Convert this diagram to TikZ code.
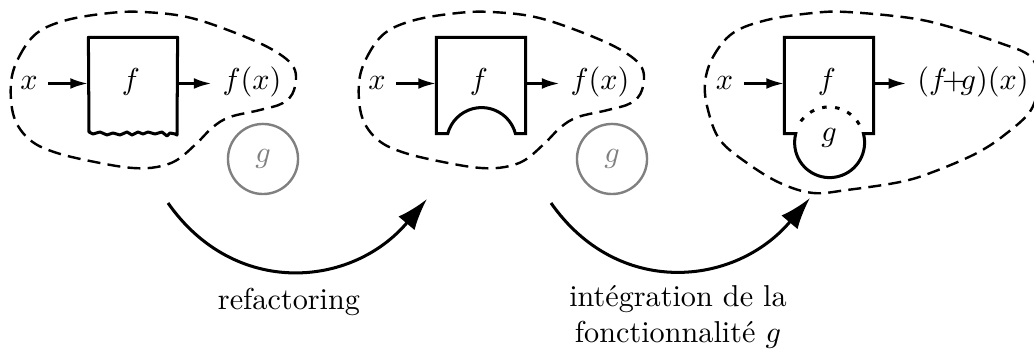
\documentclass[tikz,border=0pt]{standalone}
\usepackage{fontspec}
\usetikzlibrary{arrows.meta,calc}
\begin{document}
\begin{tikzpicture}[x=0.331pt,y=0.331pt,
  blob/.style={line width=0.8pt, dash pattern=on 4.3pt off 2.4pt},
  fbox/.style={minimum width=29.13pt, minimum height=31.45pt, inner sep=0pt},
  boxline/.style={line width=1pt, line join=miter},
  inarrow/.style={line width=1pt, -{Latex[length=6pt,width=3.6pt]}},
  bigarrow/.style={line width=1pt, -{Latex[length=10.5pt,width=7pt]}},
  gcirc/.style={circle, draw=black!50, text=black!50, line width=0.8pt, minimum size=23.2pt, inner sep=0pt},
  lbl/.style={anchor=base, inner sep=3.33pt},
  dotarc/.style={line width=1pt, dash pattern=on 1.5pt off 2.8pt}
]
\useasboundingbox (0,0) rectangle (1034,-351);

% ---------- panel 1 ----------
\draw[blob] plot[smooth cycle, tension=0.6] coordinates {(11,-83) (19,-57) (37,-33) (67,-20) (110,-13) (143,-12) (187,-17) (233,-32) (273,-50) (294,-68) (294,-90) (283,-103) (260,-110) (230,-117) (213,-127) (197,-143) (177,-160) (157,-167) (133,-168) (100,-163) (57,-153) (30,-140) (14,-117)};
\node[lbl] (x1) at (29,-90) {$x$};
\node[fbox] (b1) at (133,-85.5) {};
\node[lbl] (f1) at (131,-90) {$f$};
\node[lbl] (y1) at (252,-90) {$f(x)$};
\draw[inarrow] (x1.east) -- (x1.east -| b1.west);
\draw[inarrow] (b1.east |- x1.east) -- (y1.west |- x1.east);
\draw[boxline, line join=round] (89,-132) -- (b1.north west) -- (b1.north east) -- (177,-135) -- (175,-134) -- (170,-133) -- (167,-136) -- (162,-132) -- (155,-134) -- (148,-132) -- (143,-134) -- (138,-132) -- (132,-135) -- (127,-132) -- (120,-135) -- (113,-133) -- (107,-135) -- (100,-132) -- (93,-134) -- cycle;
\node[gcirc] (g1) at (263,-159) {$g$};

% ---------- panel 2 ----------
\begin{scope}[shift={(348,0)}]
\draw[blob] plot[smooth cycle, tension=0.6] coordinates {(11,-83) (19,-57) (37,-33) (67,-20) (110,-13) (143,-12) (187,-17) (233,-32) (273,-50) (294,-68) (294,-90) (283,-103) (260,-110) (230,-117) (213,-127) (197,-143) (177,-160) (157,-167) (133,-168) (100,-163) (57,-153) (30,-140) (14,-117)};
\node[lbl] (x2) at (29,-90) {$x$};
\node[fbox] (b2) at (133,-85.5) {};
\node[lbl] (f2) at (131,-90) {$f$};
\node[lbl] (y2) at (252,-90) {$f(x)$};
\draw[inarrow] (x2.east) -- (x2.east -| b2.west);
\draw[inarrow] (b2.east |- x2.east) -- (y2.west |- x2.east);
\draw[boxline] (b2.south west) -- (b2.north west) -- (b2.north east) -- (b2.south east) -- ++(-10.2,0) arc[start angle=14.9, end angle=165.1, radius=35] -- cycle;
\node[gcirc] (g2) at (264,-159) {$g$};
\end{scope}

% ---------- panel 3 ----------
\begin{scope}[shift={(696,0)}]
\draw[blob] plot[smooth cycle, tension=0.6] coordinates {(9,-83) (17,-57) (37,-33) (71,-20) (117,-13) (151,-12) (214,-18) (254,-27) (304,-43) (335,-57) (342,-82) (335,-110) (311,-133) (281,-153) (237,-172) (204,-182) (151,-190) (117,-193) (84,-183) (51,-163) (24,-140) (12,-110)};
\node[lbl] (x3) at (28.5,-90) {$x$};
\node[fbox] (b3) at (133,-85.5) {};
\node[lbl] (f3) at (131,-90) {$f$};
\node[lbl] (y3) at (277,-90) {$(f\!{+}\!g)(x)$};
\draw[inarrow] (x3.east) -- (x3.east -| b3.west);
\draw[inarrow] (b3.east |- x3.east) -- (y3.west |- x3.east);
\draw[boxline] (b3.south west) -- (b3.north west) -- (b3.north east) -- (b3.south east) -- ++(-10.2,0) arc[start angle=14.9, end angle=-194.9, radius=35] -- cycle;
\draw[dotarc] (133,-142) ++(30:35) arc[start angle=30, end angle=150, radius=35];
\node (g3) at (133,-138) {$g$};
\end{scope}

% ---------- transitions ----------
\coordinate (a1s) at (168,-203);
\coordinate (a1e) at (427,-199);
\coordinate (a2s) at (551,-203);
\coordinate (a2e) at (810,-198);
\draw[bigarrow] (a1s) .. controls +(66.5,-95) and +(-75,-89) .. (a1e);
\draw[bigarrow] (a2s) .. controls +(66.5,-95) and +(-75,-89) .. (a2e);
\node (t1) at (289,-302) {refactoring};
\node[align=center] (t2) at (678,-317) {intégration de la\\fonctionnalité $g$};
\end{tikzpicture}
\end{document}
